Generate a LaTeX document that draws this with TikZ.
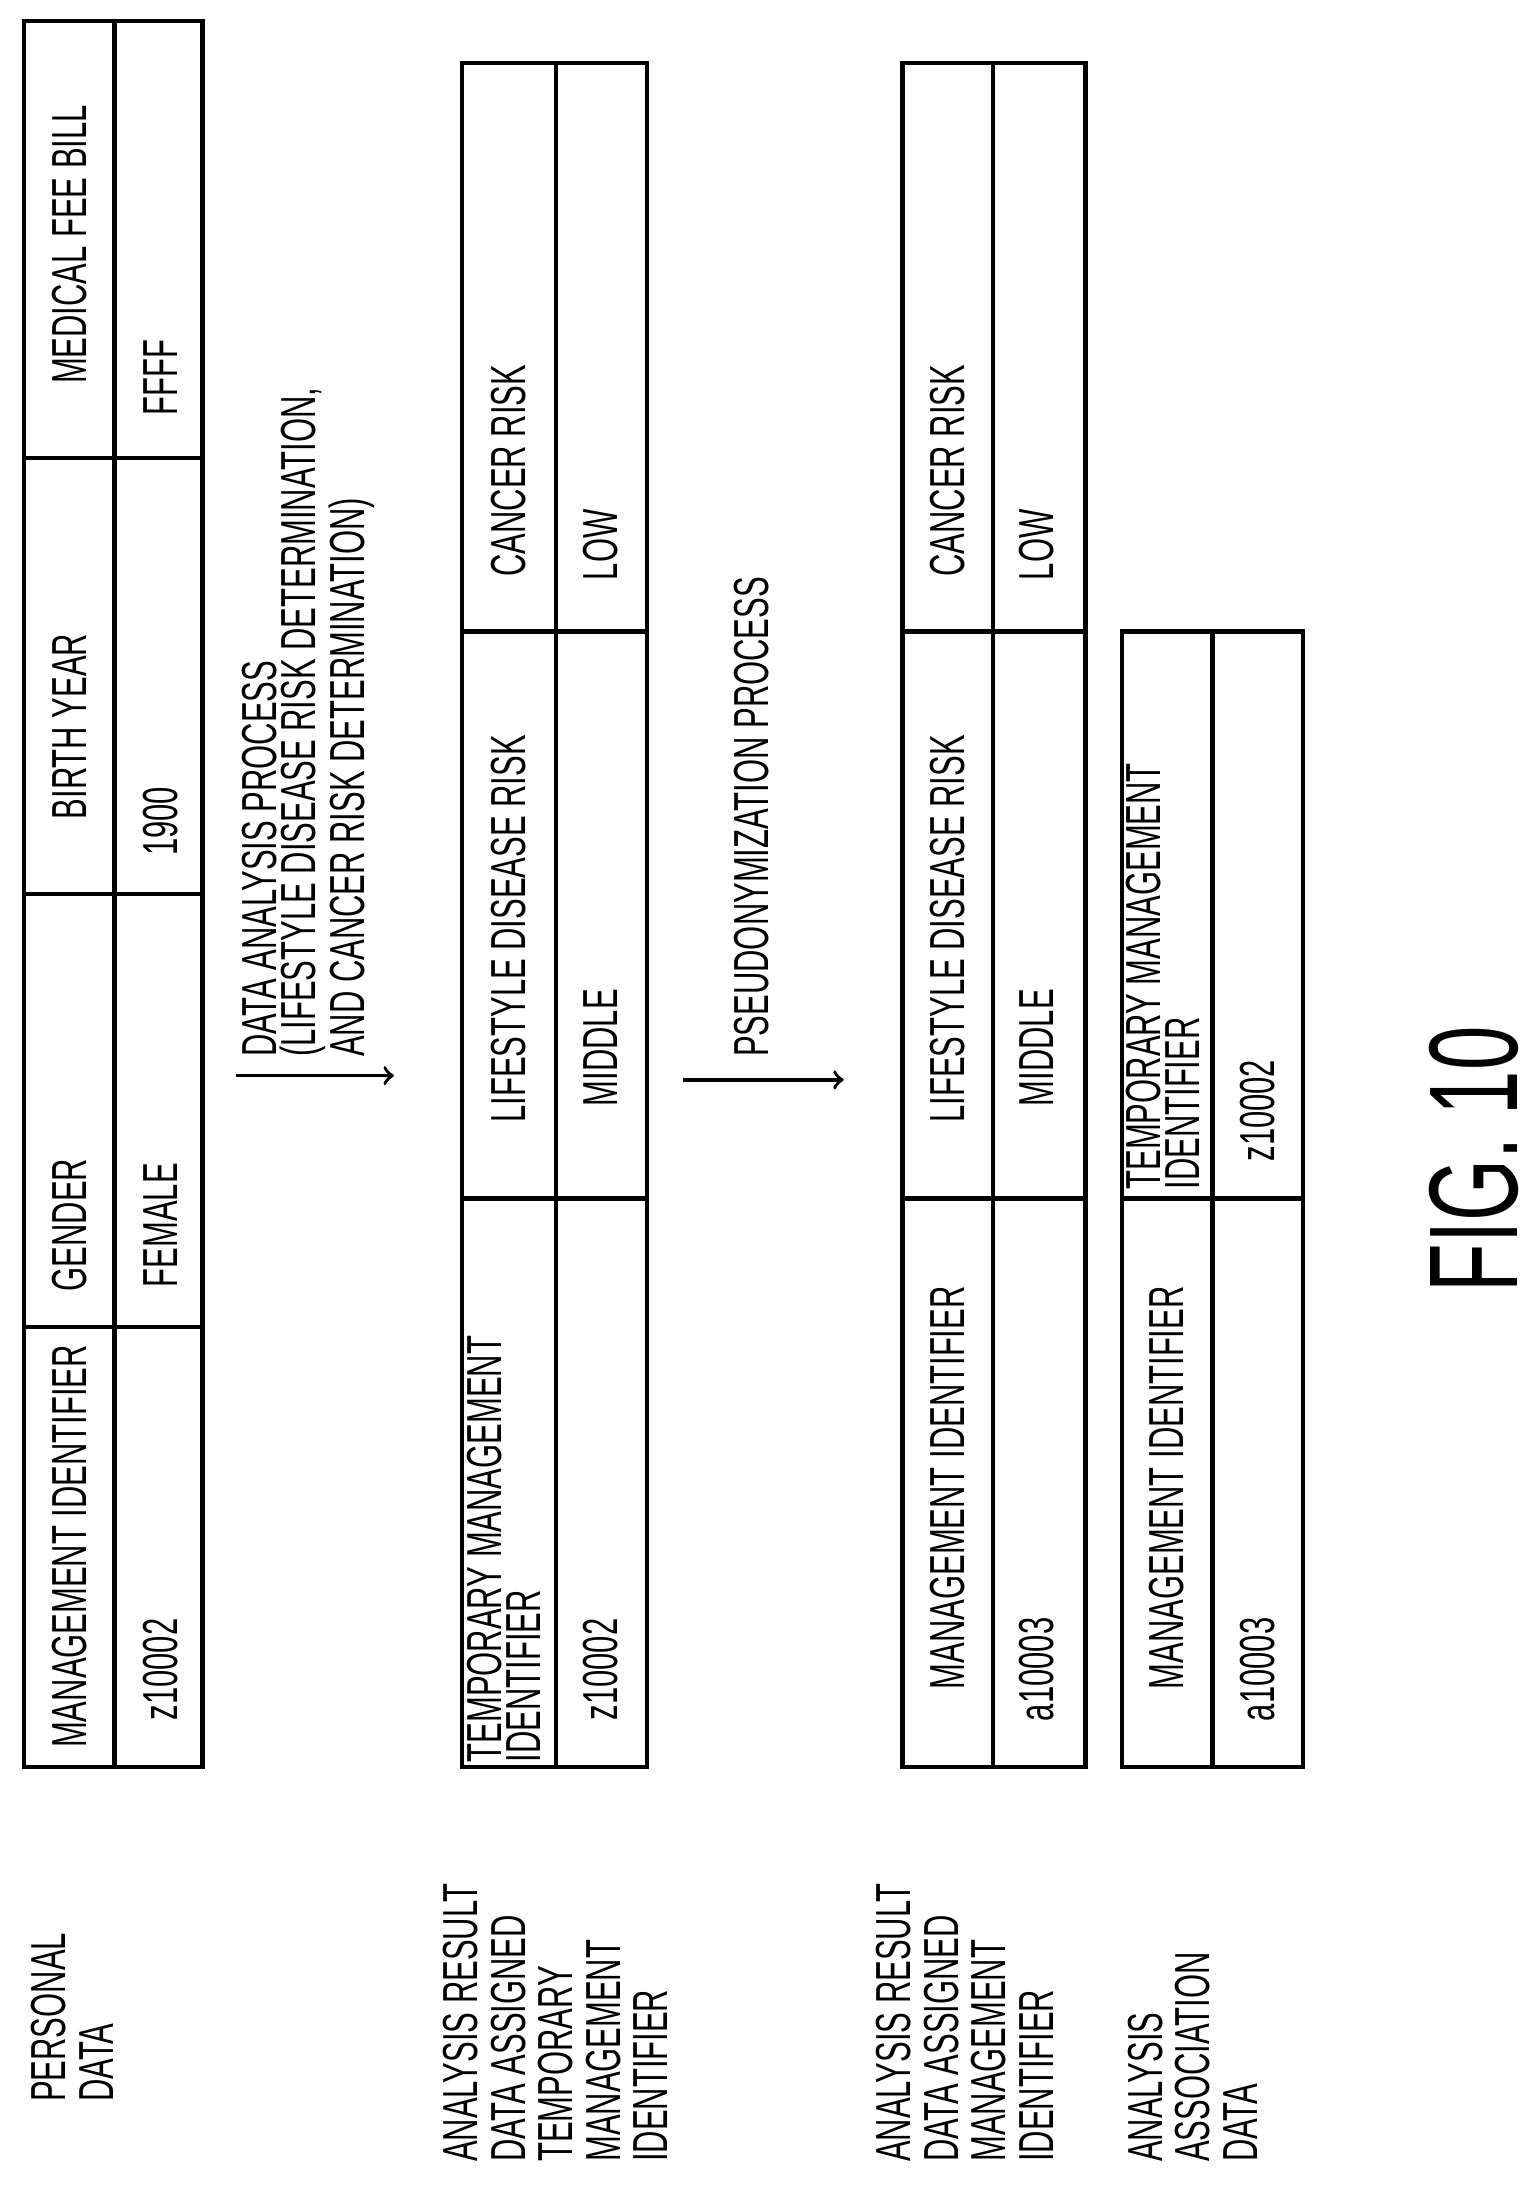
\documentclass[tikz,border=0pt]{standalone}
\usepackage{fontspec}
\setmainfont[FakeStretch=0.63]{Liberation Sans}
\begin{document}
\begin{tikzpicture}[x=0.01397cm, y=-0.01397cm,
    every node/.style={rotate=90, inner sep=0pt, font=\fontsize{14}{11}\selectfont},
    cell/.style={align=left},
    side/.style={anchor=north west, align=left, font=\fontsize{14}{13.5}\selectfont},
    grid/.style={line width=1.2pt}]

    \useasboundingbox (0,0) rectangle (1100,1567);

    % Tables
    \draw[grid] (17,15) rectangle (145,1265);
    \draw[grid] (82,15) -- (82,1265);
    \foreach \y in {950,640,328} \draw[grid] (17,\y) -- (145,\y);

    \draw[grid] (331,45) rectangle (463,1265);
    \draw[grid] (398,45) -- (398,1265);
    \foreach \y in {858,452} \draw[grid] (331,\y) -- (463,\y);

    \draw[grid] (646,45) rectangle (777,1265);
    \draw[grid] (711,45) -- (711,1265);
    \foreach \y in {858,452} \draw[grid] (646,\y) -- (777,\y);

    \draw[grid] (803,452) rectangle (933,1265);
    \draw[grid] (868,452) -- (868,1265);
    \draw[grid] (803,858) -- (933,858);

    % Personal data
    \node[side] (lbl1) at (22,1505) {PERSONAL\\DATA};
    \node (mid1) at (50,1107) {MANAGEMENT IDENTIFIER};
    \node (gen1) at (50,877) {GENDER};
    \node (byr1) at (50,520) {BIRTH YEAR};
    \node (fee1) at (50,175) {MEDICAL FEE BILL};
    \node (v11) at (115,1195) {z10002};
    \node (v12) at (115,877) {FEMALE};
    \node (v13) at (115,588) {1900};
    \node (v14) at (115,270) {FFFF};

    % Analysis result with temporary identifier
    \node[side] (lbl2) at (317,1548) {ANALYSIS RESULT\\DATA ASSIGNED\\TEMPORARY\\MANAGEMENT\\IDENTIFIER};
    \node[cell, anchor=north west] (tid2) at (334,1262) {TEMPORARY MANAGEMENT\\IDENTIFIER};
    \node (ldr2) at (364,665) {LIFESTYLE DISEASE RISK};
    \node (cr2) at (364,337) {CANCER RISK};
    \node (v21) at (430,1195) {z10002};
    \node (v22) at (430,750) {MIDDLE};
    \node (v23) at (430,390) {LOW};

    % Analysis result with management identifier
    \node[side] (lbl3) at (627,1548) {ANALYSIS RESULT\\DATA ASSIGNED\\MANAGEMENT\\IDENTIFIER};
    \node (mid3) at (678,1065) {MANAGEMENT IDENTIFIER};
    \node (ldr3) at (678,665) {LIFESTYLE DISEASE RISK};
    \node (cr3) at (678,337) {CANCER RISK};
    \node (v31) at (742,1195) {a10003};
    \node (v32) at (742,750) {MIDDLE};
    \node (v33) at (742,390) {LOW};

    % Analysis association data
    \node[side] (lbl4) at (807,1548) {ANALYSIS\\ASSOCIATION\\DATA};
    \node (mid4) at (835,1065) {MANAGEMENT IDENTIFIER};
    \node[cell, anchor=north west] (tid4) at (806,852) {TEMPORARY MANAGEMENT\\IDENTIFIER};
    \node (v41) at (900,1195) {a10003};
    \node (v42) at (900,795) {z10002};

    % Arrows
    \coordinate (a1s) at (169,770);
    \coordinate (a1e) at (282,770);
    \coordinate (a2s) at (489,773);
    \coordinate (a2e) at (604,773);
    \draw[->, line width=1pt] (a1s) -- (a1e);
    \draw[->, line width=1pt] (a2s) -- (a2e);
    \node[cell, anchor=north west] (proc1) at (173,757) {DATA ANALYSIS PROCESS\\(LIFESTYLE DISEASE RISK DETERMINATION,\\AND CANCER RISK DETERMINATION)};
    \node[anchor=north west] (proc2) at (525,757) {PSEUDONYMIZATION PROCESS};

    \node[font=\fontsize{36}{36}\selectfont] (fig) at (1055,830) {FIG. 10};

\end{tikzpicture}
\end{document}
